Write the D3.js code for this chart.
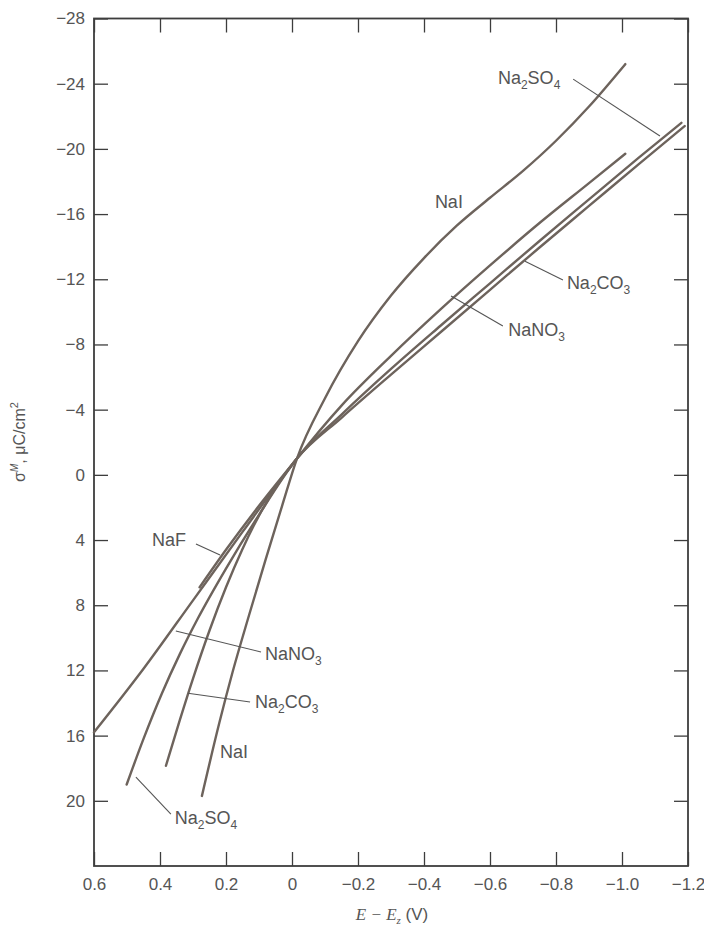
<!DOCTYPE html>
<html>
<head>
<meta charset="utf-8">
<script src="https://cdn.jsdelivr.net/npm/d3@7"></script>
<style>
  body { margin: 0; background: #fff; }
  text { font-family: "Liberation Sans", Arial, Helvetica, sans-serif; }
</style>
</head>
<body>
<div id="chart"></div>
<script>
// axis ticks
var xTicks = [0.6, 0.4, 0.2, 0, -0.2, -0.4, -0.6, -0.8, -1.0, -1.2];
var xTickLabels = ["0.6", "0.4", "0.2", "0", "\u22120.2", "\u22120.4", "\u22120.6", "\u22120.8", "\u22121.0", "\u22121.2"];
var yTicks = [-28, -24, -20, -16, -12, -8, -4, 0, 4, 8, 12, 16, 20];
var yTickLabels = ["\u221228", "\u221224", "\u221220", "\u221216", "\u221212", "\u22128", "\u22124", "0", "4", "8", "12", "16", "20"];

// E - Ez (V) and charge density (uC/cm2) for each electrolyte
var naI_E = [0.273, 0.22, 0.18, 0.13, 0.08, 0.03, -0.015, -0.1, -0.2, -0.3, -0.4, -0.5, -0.6, -0.7, -0.8, -0.9, -1.01];
var naI_S = [19.7, 15.2, 12.1, 8.6, 5.2, 1.9, -1.0, -4.7, -8.2, -11.0, -13.3, -15.3, -17.0, -18.65, -20.5, -22.6, -25.2];

var naNO3_E = [0.6, 0.45, 0.3, 0.15, -0.015, -0.15, -0.3, -0.45, -0.6, -0.75, -0.9, -1.01];
var naNO3_S = [15.8, 11.9, 7.7, 3.5, -1.0, -4.25, -7.3, -10.15, -12.85, -15.45, -17.9, -19.7];

var na2SO4_E = [0.501, 0.45, 0.394, 0.34, 0.285, 0.2, 0.1, -0.015, -0.15, -0.3, -0.45, -0.6, -0.75, -0.9, -1.05, -1.18];
var na2SO4_S = [19.0, 16.2, 13.4, 11.0, 8.8, 5.75, 2.45, -1.0, -3.7, -6.5, -9.15, -11.75, -14.35, -16.9, -19.45, -21.6];

var na2CO3_E = [0.382, 0.34, 0.3, 0.25, 0.2, 0.15, 0.1, 0.05, -0.015, -0.15, -0.3, -0.45, -0.6, -0.75, -0.9, -1.05, -1.19];
var na2CO3_S = [17.85, 15.05, 12.5, 9.55, 6.9, 4.55, 2.5, 0.8, -1.0, -3.5, -6.15, -8.75, -11.35, -13.95, -16.5, -19.05, -21.4];

var naF_E = [0.28, 0.2, 0.1, -0.015];
var naF_S = [6.9, 4.6, 1.9, -1.0];

var series = [
  { name: "NaI", E: naI_E, S: naI_S },
  { name: "NaNO3", E: naNO3_E, S: naNO3_S },
  { name: "Na2SO4", E: na2SO4_E, S: na2SO4_S },
  { name: "Na2CO3", E: na2CO3_E, S: na2CO3_S },
  { name: "NaF", E: naF_E, S: naF_S }
];

// curve labels: text position and leader line, in data units
var labels = [
  { text: "NaI", at: [-0.433, -16.36] },
  { text: "Na_2SO_4", at: [-0.624, -23.98], from: [-0.852, -24.28], to: [-1.115, -20.79] },
  { text: "Na_2CO_3", at: [-0.833, -11.40], from: [-0.706, -13.1], to: [-0.821, -11.96] },
  { text: "NaNO_3", at: [-0.655, -8.52], from: [-0.482, -10.97], to: [-0.639, -9.13] },
  { text: "NaF", at: [0.424, 4.37], from: [0.291, 4.24], to: [0.218, 4.92] },
  { text: "NaNO_3", at: [0.082, 11.36], from: [0.352, 9.58], to: [0.094, 10.87] },
  { text: "Na_2CO_3", at: [0.112, 14.3], from: [0.315, 13.4], to: [0.127, 13.94] },
  { text: "NaI", at: [0.218, 17.38] },
  { text: "Na_2SO_4", at: [0.355, 21.43], from: [0.473, 18.54], to: [0.367, 20.81] }
];

var svgWidth = 704;
var svgHeight = 926;

var svg = d3.select("#chart")
  .append("svg")
  .attr("width", svgWidth)
  .attr("height", svgHeight);

var x = d3.scaleLinear().domain([0.6, -1.2]).range([94, 688]);
var y = d3.scaleLinear().domain([-28, 24]).range([18.5, 866]);

var axisColor = "#3d3d3d";
var textColor = "#555";
var lineColor = "#6d635c";

// axes, ticks pointing inward
function styleAxis(g) {
  g.select(".domain").remove();
  g.selectAll(".tick line").attr("stroke", axisColor).attr("stroke-width", 1.3);
  g.selectAll(".tick text").attr("fill", textColor).style("font-size", "17px");
}

svg.append("g")
  .attr("transform", "translate(0," + y.range()[1] + ")")
  .call(d3.axisBottom(x).tickValues(xTicks).tickSize(-14).tickPadding(12)
    .tickFormat(function(d, i) { return xTickLabels[i]; }))
  .call(styleAxis);

svg.append("g")
  .attr("transform", "translate(0," + y.range()[0] + ")")
  .call(d3.axisTop(x).tickValues(xTicks).tickSize(-14).tickFormat(""))
  .call(styleAxis);

svg.append("g")
  .attr("transform", "translate(" + x.range()[0] + ",0)")
  .call(d3.axisLeft(y).tickValues(yTicks).tickSize(-14).tickPadding(9)
    .tickFormat(function(d, i) { return yTickLabels[i]; }))
  .call(styleAxis);

svg.append("g")
  .attr("transform", "translate(" + x.range()[1] + ",0)")
  .call(d3.axisRight(y).tickValues(yTicks).tickSize(-14).tickFormat(""))
  .call(styleAxis);

// frame
svg.append("rect")
  .attr("x", x.range()[0])
  .attr("y", y.range()[0])
  .attr("width", x.range()[1] - x.range()[0])
  .attr("height", y.range()[1] - y.range()[0])
  .attr("fill", "none")
  .attr("stroke", axisColor)
  .attr("stroke-width", 1.8);

// curves (points run left to right on screen)
var line = d3.line()
  .x(function(d) { return x(d[0]); })
  .y(function(d) { return y(d[1]); })
  .curve(d3.curveMonotoneX);

svg.append("g")
  .selectAll("path")
  .data(series)
  .enter()
  .append("path")
  .attr("d", function(s) { return line(s.E.map(function(e, i) { return [e, s.S[i]]; })); })
  .attr("fill", "none")
  .attr("stroke", lineColor)
  .attr("stroke-width", 2.4)
  .attr("stroke-linecap", "round");

// leader lines
svg.append("g")
  .selectAll("line")
  .data(labels.filter(function(d) { return d.from; }))
  .enter()
  .append("line")
  .attr("x1", function(d) { return x(d.from[0]); })
  .attr("y1", function(d) { return y(d.from[1]); })
  .attr("x2", function(d) { return x(d.to[0]); })
  .attr("y2", function(d) { return y(d.to[1]); })
  .attr("stroke", "#555")
  .attr("stroke-width", 1.1);

// label text with subscripts ("_" marks a subscript digit)
labels.forEach(function(d) {
  var t = svg.append("text")
    .attr("x", x(d.at[0]))
    .attr("y", y(d.at[1]))
    .attr("fill", textColor)
    .style("font-size", "18px");
  var parts = d.text.split(/_(\d)/);
  parts.forEach(function(p, i) {
    if (!p) return;
    if (i % 2 === 1) {
      t.append("tspan").attr("dy", 5).style("font-size", "12px").text(p);
    } else {
      t.append("tspan").attr("dy", i > 0 ? -5 : 0).text(p);
    }
  });
});

// y axis title
var yTitle = svg.append("text")
  .attr("transform", "translate(25,442) rotate(-90)")
  .attr("text-anchor", "middle")
  .attr("fill", textColor)
  .style("font-size", "16px");
yTitle.append("tspan").text("\u03c3");
yTitle.append("tspan").attr("dy", -7).style("font-size", "10px").style("font-style", "italic").text("M");
yTitle.append("tspan").attr("dy", 7).text(", \u03bcC/cm");
yTitle.append("tspan").attr("dy", -7).style("font-size", "11px").text("2");

// x axis title
var xTitle = svg.append("text")
  .attr("x", 392)
  .attr("y", 920)
  .attr("text-anchor", "middle")
  .attr("fill", textColor)
  .style("font-size", "17px");
xTitle.append("tspan").style("font-family", "'Liberation Serif', serif").style("font-style", "italic").text("E \u2212 E");
xTitle.append("tspan").attr("dy", 4).style("font-family", "'Liberation Serif', serif").style("font-style", "italic").style("font-size", "11px").text("z");
xTitle.append("tspan").attr("dy", -4).text(" (V)");
</script>
</body>
</html>
